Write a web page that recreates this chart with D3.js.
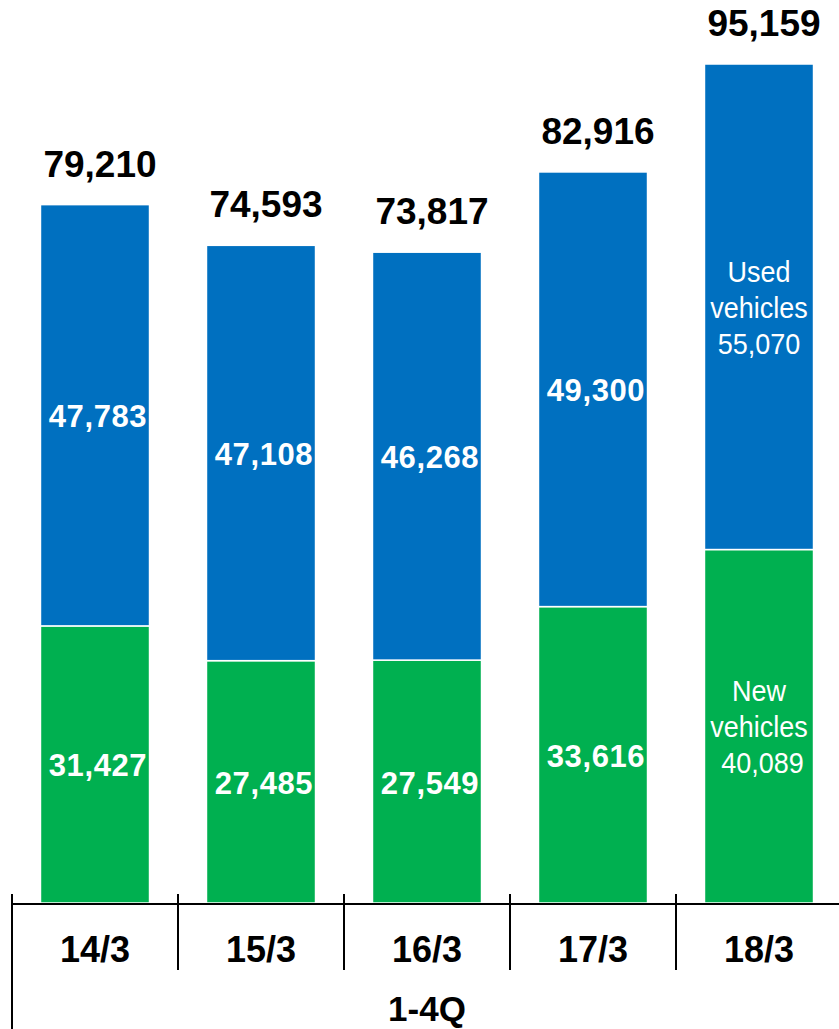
<!DOCTYPE html>
<html>
<head>
<meta charset="utf-8">
<script src="https://cdn.jsdelivr.net/npm/d3@7"></script>
<style>
  html, body { margin: 0; padding: 0; background: #fff; }
  svg { display: block; }
</style>
</head>
<body>
<svg id="chart" width="839" height="1029"></svg>
<script>
// Fiscal years (March year-end), cumulative 1-4Q
const categories = ["14/3", "15/3", "16/3", "17/3", "18/3"];
const newVehicles = [31427, 27485, 27549, 33616, 40089];
const usedVehicles = [47783, 47108, 46268, 49300, 55070];
const totals = [79210, 74593, 73817, 82916, 95159];
const periodLabel = "1-4Q";

const W = 839, H = 1029;
const axisY = 903;
const BLUE = "#0070C0", GREEN = "#00B050";
const FONT = "'Liberation Sans', Arial, Helvetica, sans-serif";

const svg = d3.select("#chart");

const x = d3.scaleBand()
  .domain(categories)
  .range([12, 842])
  .paddingInner(0.343)
  .paddingOuter(0.1715);

const y = d3.scaleLinear()
  .domain([0, 95159])
  .range([axisY, 64]);

const fmt = d3.format(",");

const rows = categories.map((c, i) => ({
  cat: c, i,
  newV: newVehicles[i], usedV: usedVehicles[i], total: totals[i]
}));

// stacked segments: new (bottom) then used (top)
const segs = [];
rows.forEach(r => {
  segs.push({ cat: r.cat, i: r.i, key: "new", y0: 0, y1: r.newV, v: r.newV, color: GREEN });
  segs.push({ cat: r.cat, i: r.i, key: "used", y0: r.newV, y1: r.newV + r.usedV, v: r.usedV, color: BLUE });
});

svg.append("g").selectAll("rect")
  .data(segs)
  .join("rect")
  .attr("x", d => x(d.cat))
  .attr("width", x.bandwidth())
  .attr("y", d => y(d.y1))
  .attr("height", d => y(d.y0) - y(d.y1))
  .attr("fill", d => d.color)
  .attr("stroke", "#ffffff")
  .attr("stroke-width", 1.5);

// segment value labels (first four bars)
const last = categories.length - 1;
svg.append("g").selectAll("text")
  .data(segs.filter(d => d.i !== last))
  .join("text")
  .attr("x", d => x(d.cat) + x.bandwidth() / 2 + 3)
  .attr("y", d => (y(d.y0) + y(d.y1)) / 2 + 12)
  .attr("text-anchor", "middle")
  .attr("font-family", FONT)
  .attr("font-weight", "bold")
  .attr("font-size", 31)
  .attr("letter-spacing", 0.6)
  .attr("fill", "#fff")
  .text(d => fmt(d.v));

// last bar: series names with values
const lastSegs = segs.filter(d => d.i === last);
lastSegs.forEach(d => {
  const name = d.key === "new" ? "New" : "Used";
  const lines = [name, "vehicles", fmt(d.v)];
  const cx = x(d.cat) + x.bandwidth() / 2;
  const cy = (y(d.y0) + y(d.y1)) / 2;
  const g = svg.append("g")
    .attr("transform", `translate(${cx},${cy}) scale(0.9,1)`);
  g.selectAll("text")
    .data(lines)
    .join("text")
    .attr("x", (t, j) => j === 2 && d.key === "new" ? 4 : 0)
    .attr("y", (t, j) => (j - 1) * 36 + 11)
    .attr("text-anchor", "middle")
    .attr("font-family", FONT)
    .attr("font-size", 30)
    .attr("fill", "#fff")
    .text(t => t);
});

// totals above bars
svg.append("g").selectAll("text")
  .data(rows)
  .join("text")
  .attr("x", d => x(d.cat) + x.bandwidth() / 2 + 5)
  .attr("y", d => y(d.total) - 28)
  .attr("text-anchor", "middle")
  .attr("font-family", FONT)
  .attr("font-weight", "bold")
  .attr("font-size", 37)
  .attr("fill", "#000")
  .text(d => fmt(d.total));

// axis line
svg.append("line")
  .attr("x1", 12).attr("x2", W)
  .attr("y1", axisY + 1).attr("y2", axisY + 1)
  .attr("stroke", "#000").attr("stroke-width", 2);

// category separators
const bounds = categories.map(c => x(c) - x.step() * x.paddingInner() / 2);
svg.append("g").selectAll("line")
  .data(bounds)
  .join("line")
  .attr("x1", d => d).attr("x2", d => d)
  .attr("y1", 894)
  .attr("y2", (d, i) => i === 0 ? H : 970)
  .attr("stroke", "#000").attr("stroke-width", 2);

// category labels
svg.append("g").selectAll("text")
  .data(categories)
  .join("text")
  .attr("x", d => x(d) + x.bandwidth() / 2)
  .attr("y", 962)
  .attr("text-anchor", "middle")
  .attr("font-family", FONT)
  .attr("font-weight", "bold")
  .attr("font-size", 36)
  .attr("fill", "#000")
  .text(d => d);

// period label
svg.append("text")
  .attr("x", 427)
  .attr("y", 1021)
  .attr("text-anchor", "middle")
  .attr("font-family", FONT)
  .attr("font-weight", "bold")
  .attr("font-size", 35)
  .attr("fill", "#000")
  .text(periodLabel);
</script>
</body>
</html>
